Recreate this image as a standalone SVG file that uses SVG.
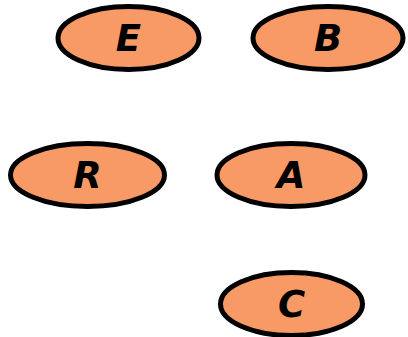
<svg xmlns="http://www.w3.org/2000/svg" width="408" height="337" viewBox="0 0 408 337">
<style>
.n ellipse{fill:#F79A66;stroke:#000;stroke-width:5}
.n text{font-family:"Comic Sans MS","DejaVu Sans",sans-serif;font-weight:bold;font-style:italic;font-size:37px;text-anchor:middle;dominant-baseline:central;fill:#000}
</style>
<rect width="408" height="337" fill="#fff"/>
<g id="connectors"></g>
<g id="E" class="n"><ellipse cx="128.5" cy="38" rx="70.5" ry="31.5"/><text x="128.5" y="38">E</text></g>
<g id="B" class="n"><ellipse cx="328" cy="38" rx="75" ry="31.5"/><text x="328" y="38">B</text></g>
<g id="R" class="n"><ellipse cx="87.5" cy="175" rx="77" ry="31.5"/><text x="87.5" y="175">R</text></g>
<g id="A" class="n"><ellipse cx="291" cy="175" rx="74" ry="31.5"/><text x="291" y="175">A</text></g>
<g id="C" class="n"><ellipse cx="291.5" cy="304" rx="71" ry="31.5"/><text x="291.5" y="304">C</text></g>
</svg>
